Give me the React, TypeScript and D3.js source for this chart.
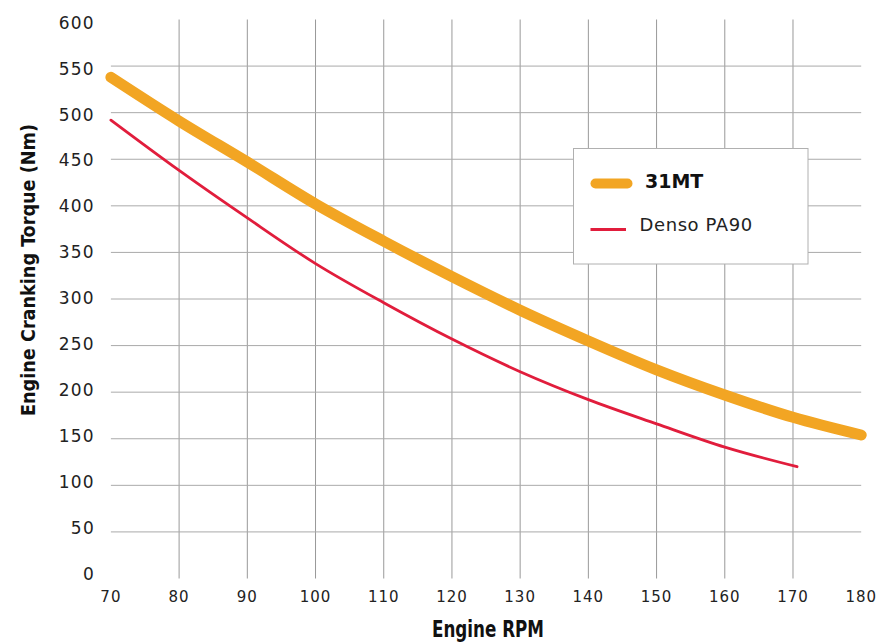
import React, { useEffect, useRef } from 'react';
import * as d3 from 'd3';

// readings from the chart
const rpm31MT = [70, 80, 90, 100, 110, 120, 130, 140, 150, 160, 170, 180];
const torque31MT = [538, 491, 447, 402, 362, 324, 288, 255, 224, 197, 173, 154];

const rpmDenso = [70, 80, 90, 100, 110, 120, 130, 140, 150, 160, 170.6];
const torqueDenso = [492, 438, 387, 338, 296, 257, 222, 192, 166, 141, 120];

const xTicks = [70, 80, 90, 100, 110, 120, 130, 140, 150, 160, 170, 180];
const yTicks = [0, 50, 100, 150, 200, 250, 300, 350, 400, 450, 500, 550, 600];

const seriesNames = ['31MT', 'Denso PA90'];

const ORANGE = '#F2A523';
const RED = '#E11D3C';

const width = 889;
const height = 642;
const labelFont = "'DejaVu Sans', sans-serif";
const titleFont = "'Liberation Sans Narrow', 'DejaVu Sans Condensed', 'DejaVu Sans', sans-serif";

const App: React.FC = () => {
  const svgRef = useRef<SVGSVGElement>(null);

  useEffect(() => {
    if (!svgRef.current) return;
    const svg = d3.select(svgRef.current);
    svg.selectAll('*').remove();

    const x = d3.scaleLinear().domain([70, 180]).range([110.9, 861.2]);
    const y = d3.scaleLinear().domain([0, 600]).range([578.5, 19.5]);
    // tick labels sit a bit tighter than the grid in the original
    const yLab = d3.scaleLinear().domain([0, 600]).range([574, 22.5]);

    svg.append('rect').attr('width', width).attr('height', height).attr('fill', '#fff');

    // grid
    const grid = svg.append('g');
    grid
      .selectAll('.vline')
      .data(xTicks.filter((t) => t > 70 && t < 180))
      .enter()
      .append('line')
      .attr('x1', (d) => x(d))
      .attr('x2', (d) => x(d))
      .attr('y1', y(600))
      .attr('y2', y(0))
      .attr('stroke', '#999')
      .attr('stroke-width', 1);
    grid
      .selectAll('.hline')
      .data(yTicks.filter((t) => t > 0 && t < 600))
      .enter()
      .append('line')
      .attr('x1', x(70))
      .attr('x2', x(180))
      .attr('y1', (d) => y(d))
      .attr('y2', (d) => y(d))
      .attr('stroke', '#aaa')
      .attr('stroke-width', 1);

    // tick labels
    svg
      .append('g')
      .selectAll('text')
      .data(yTicks)
      .enter()
      .append('text')
      .attr('x', 95)
      .attr('y', (d) => yLab(d))
      .attr('dy', '0.36em')
      .attr('text-anchor', 'end')
      .attr('font-family', labelFont)
      .attr('font-size', 17)
      .attr('letter-spacing', 1.3)
      .attr('fill', '#222')
      .text((d) => d);

    svg
      .append('g')
      .selectAll('text')
      .data(xTicks)
      .enter()
      .append('text')
      .attr('x', (d) => x(d))
      .attr('y', 601.5)
      .attr('text-anchor', 'middle')
      .attr('font-family', labelFont)
      .attr('font-size', 15)
      .attr('letter-spacing', 1)
      .attr('fill', '#222')
      .text((d) => d);

    // axis titles
    svg
      .append('text')
      .attr('x', 488)
      .attr('y', 637)
      .attr('text-anchor', 'middle')
      .attr('font-family', titleFont)
      .attr('font-weight', 'bold')
      .attr('font-size', 23)
      .attr('textLength', 112)
      .attr('lengthAdjust', 'spacingAndGlyphs')
      .attr('fill', '#111')
      .text('Engine RPM');

    svg
      .append('text')
      .attr('transform', 'translate(35,270) rotate(-90)')
      .attr('text-anchor', 'middle')
      .attr('font-family', titleFont)
      .attr('font-weight', 'bold')
      .attr('font-size', 20)
      .attr('textLength', 292)
      .attr('lengthAdjust', 'spacingAndGlyphs')
      .attr('fill', '#111')
      .text('Engine Cranking Torque (Nm)');

    // lines
    const line = d3
      .line<[number, number]>()
      .x((d) => x(d[0]))
      .y((d) => y(d[1]))
      .curve(d3.curveMonotoneX);

    svg
      .append('path')
      .datum(rpmDenso.map((r, i) => [r, torqueDenso[i]] as [number, number]))
      .attr('fill', 'none')
      .attr('stroke', RED)
      .attr('stroke-width', 2.8)
      .attr('stroke-linecap', 'round')
      .attr('d', line);

    svg
      .append('path')
      .datum(rpm31MT.map((r, i) => [r, torque31MT[i]] as [number, number]))
      .attr('fill', 'none')
      .attr('stroke', ORANGE)
      .attr('stroke-width', 11)
      .attr('stroke-linecap', 'round')
      .attr('stroke-linejoin', 'round')
      .attr('d', line);

    // legend
    const lg = svg.append('g').attr('transform', 'translate(573.5,148.5)');
    lg.append('rect')
      .attr('width', 234.5)
      .attr('height', 115.5)
      .attr('fill', '#fff')
      .attr('stroke', '#b0b0b0')
      .attr('stroke-width', 1);
    lg.append('line')
      .attr('x1', 22)
      .attr('x2', 54)
      .attr('y1', 35)
      .attr('y2', 35)
      .attr('stroke', ORANGE)
      .attr('stroke-width', 10)
      .attr('stroke-linecap', 'round');
    lg.append('text')
      .attr('x', 71.5)
      .attr('y', 39)
      .attr('font-family', labelFont)
      .attr('font-weight', 'bold')
      .attr('font-size', 19)
      .attr('fill', '#111')
      .text(seriesNames[0]);
    lg.append('line')
      .attr('x1', 17)
      .attr('x2', 52.5)
      .attr('y1', 81)
      .attr('y2', 81)
      .attr('stroke', RED)
      .attr('stroke-width', 3);
    lg.append('text')
      .attr('x', 66)
      .attr('y', 82.5)
      .attr('font-family', labelFont)
      .attr('font-size', 18)
      .attr('letter-spacing', 0.6)
      .attr('fill', '#222')
      .text(seriesNames[1]);
  }, []);

  return (
    <svg
      ref={svgRef}
      width={width}
      height={height}
      style={{ position: 'absolute', left: 0, top: 0 }}
    />
  );
};

export default App;
